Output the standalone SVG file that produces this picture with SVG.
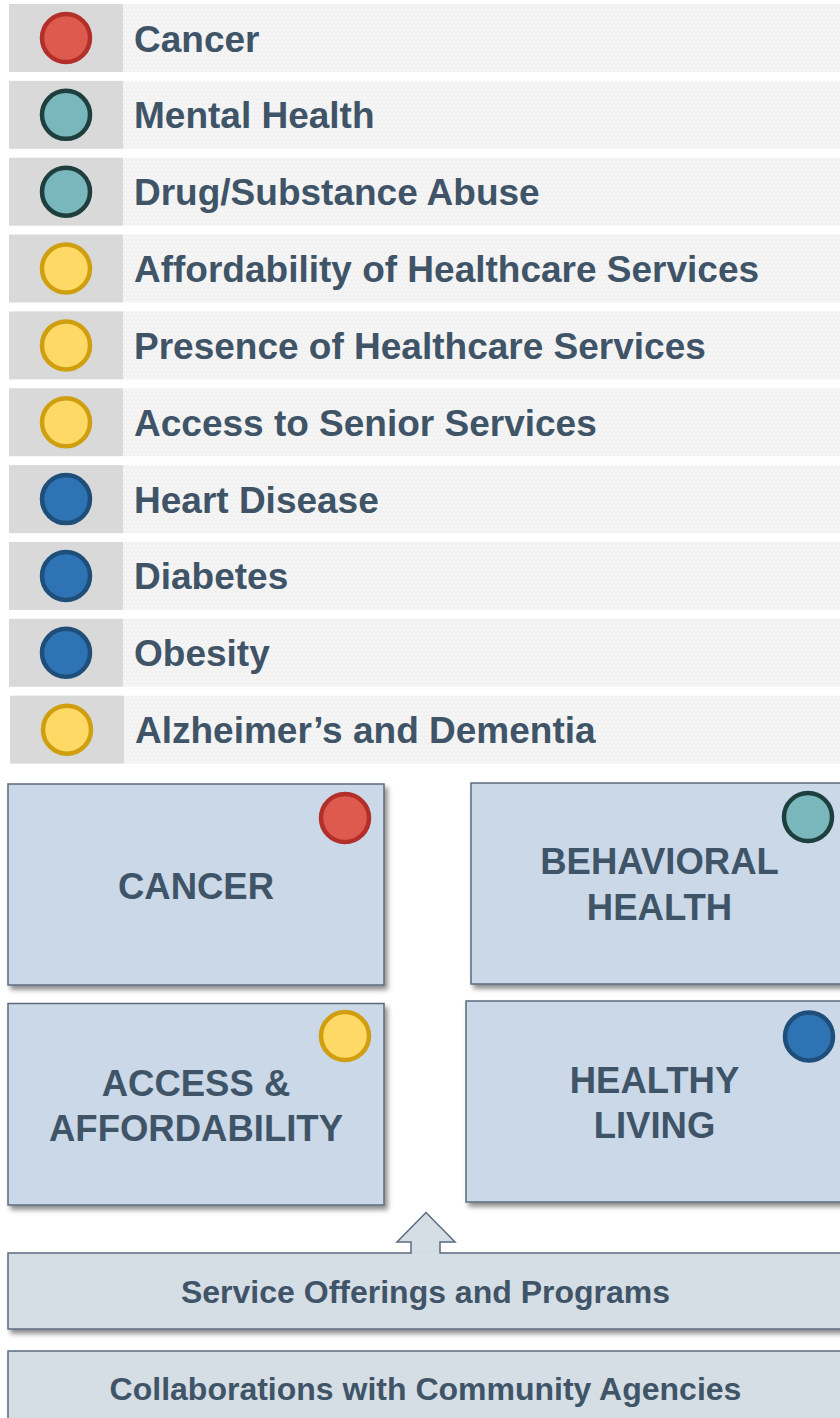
<svg xmlns="http://www.w3.org/2000/svg" width="840" height="1418" viewBox="0 0 840 1418">
<style>
.lbl{font-family:"Liberation Sans",Arial,sans-serif;font-weight:bold;fill:#405468}
.row{font-size:37px}
.big{font-size:36.5px;text-anchor:middle}
.base{font-size:32px;text-anchor:middle}
.sq{fill:#D9D9D9}
.band{fill:url(#dots)}
.box{fill:#CAD8E8;stroke:#5B6B7E;stroke-width:1.5;filter:url(#sh)}
.base-box{fill:#D5DDE5;stroke:#5B6B7E;stroke-width:1.5;filter:url(#sh)}
.red{fill:#DE5A4F;stroke:#B3302A;stroke-width:4.5}
.teal{fill:#79B7BC;stroke:#1F3F3F;stroke-width:4.5}
.yel{fill:#FFD966;stroke:#CF9F10;stroke-width:4.5}
.blu{fill:#2E74B5;stroke:#1E4E79;stroke-width:4.5}
</style>
<defs>
<pattern id="dots" width="8" height="8" patternUnits="userSpaceOnUse">
<rect width="8" height="8" fill="#F2F2F2"/>
<rect x="1" y="1" width="1.3" height="1.3" fill="#FFFFFF"/>
<rect x="5" y="1" width="1.3" height="1.3" fill="#FFFFFF"/>
<rect x="3" y="5" width="1.3" height="1.3" fill="#FFFFFF"/>
<rect x="7" y="5" width="1.3" height="1.3" fill="#FFFFFF"/>
</pattern>
<filter id="sh" x="-10%" y="-10%" width="125%" height="130%">
<feDropShadow dx="3" dy="4" stdDeviation="2.5" flood-color="#000" flood-opacity="0.45"/>
</filter>
</defs>
<rect width="840" height="1418" fill="#FFFFFF"/>

<g id="row-cancer">
<rect class="sq" x="9" y="4" width="114" height="68"/><rect class="band" x="123" y="4" width="717" height="68"/>
<circle class="red" cx="66" cy="38" r="24"/>
<text class="lbl row" x="134" y="51.5">Cancer</text>
</g>
<g id="row-mental">
<rect class="sq" x="9" y="80.85" width="114" height="68"/><rect class="band" x="123" y="80.85" width="717" height="68"/>
<circle class="teal" cx="66" cy="114.85" r="24"/>
<text class="lbl row" x="134" y="128.35">Mental Health</text>
</g>
<g id="row-drug">
<rect class="sq" x="9" y="157.7" width="114" height="68"/><rect class="band" x="123" y="157.7" width="717" height="68"/>
<circle class="teal" cx="66" cy="191.7" r="24"/>
<text class="lbl row" x="134" y="205.2">Drug/Substance Abuse</text>
</g>
<g id="row-afford">
<rect class="sq" x="9" y="234.55" width="114" height="68"/><rect class="band" x="123" y="234.55" width="717" height="68"/>
<circle class="yel" cx="66" cy="268.55" r="24"/>
<text class="lbl row" x="134" y="282.05">Affordability of Healthcare Services</text>
</g>
<g id="row-presence">
<rect class="sq" x="9" y="311.4" width="114" height="68"/><rect class="band" x="123" y="311.4" width="717" height="68"/>
<circle class="yel" cx="66" cy="345.4" r="24"/>
<text class="lbl row" x="134" y="358.9">Presence of Healthcare Services</text>
</g>
<g id="row-senior">
<rect class="sq" x="9" y="388.25" width="114" height="68"/><rect class="band" x="123" y="388.25" width="717" height="68"/>
<circle class="yel" cx="66" cy="422.25" r="24"/>
<text class="lbl row" x="134" y="435.75">Access to Senior Services</text>
</g>
<g id="row-heart">
<rect class="sq" x="9" y="465.1" width="114" height="68"/><rect class="band" x="123" y="465.1" width="717" height="68"/>
<circle class="blu" cx="66" cy="499.1" r="24"/>
<text class="lbl row" x="134" y="512.6">Heart Disease</text>
</g>
<g id="row-diabetes">
<rect class="sq" x="9" y="541.95" width="114" height="68"/><rect class="band" x="123" y="541.95" width="717" height="68"/>
<circle class="blu" cx="66" cy="575.95" r="24"/>
<text class="lbl row" x="134" y="589.45">Diabetes</text>
</g>
<g id="row-obesity">
<rect class="sq" x="9" y="618.8" width="114" height="68"/><rect class="band" x="123" y="618.8" width="717" height="68"/>
<circle class="blu" cx="66" cy="652.8" r="24"/>
<text class="lbl row" x="134" y="666.3">Obesity</text>
</g>
<g id="row-alz">
<rect class="sq" x="10" y="695.65" width="114" height="68"/><rect class="band" x="124" y="695.65" width="716" height="68"/>
<circle class="yel" cx="67" cy="729.65" r="24"/>
<text class="lbl row" x="135" y="743.15">Alzheimer’s and Dementia</text>
</g>

<g id="box-cancer">
<rect class="box" x="8" y="784" width="376" height="201"/>
<circle class="red" cx="345" cy="818" r="24"/>
<text class="lbl big" x="196" y="899">CANCER</text>
</g>
<g id="box-behavioral">
<rect class="box" x="471" y="783" width="378" height="201"/>
<circle class="teal" cx="808" cy="817" r="24"/>
<text class="lbl big" x="659.5" y="874">BEHAVIORAL</text>
<text class="lbl big" x="659.5" y="920">HEALTH</text>
</g>
<g id="box-access">
<rect class="box" x="8" y="1003.5" width="376" height="201.5"/>
<circle class="yel" cx="345" cy="1036" r="24"/>
<text class="lbl big" x="196" y="1096">ACCESS &amp;</text>
<text class="lbl big" x="196" y="1141">AFFORDABILITY</text>
</g>
<g id="box-healthy">
<rect class="box" x="466" y="1001" width="378" height="201"/>
<circle class="blu" cx="809" cy="1036.5" r="24"/>
<text class="lbl big" x="654.5" y="1093">HEALTHY</text>
<text class="lbl big" x="654.5" y="1138">LIVING</text>
</g>

<g id="connectors">
<path d="M411,1254 L411,1242 L397,1242 L426,1212.5 L455,1242 L440,1242 L440,1254" fill="#D5DDE5" stroke="#5B6B7E" stroke-width="1.5" stroke-linejoin="miter"/>
</g>

<g id="box-service">
<rect class="base-box" x="8" y="1253" width="840" height="76"/>
<path d="M411.75,1253 L439.25,1253" stroke="#D5DDE5" stroke-width="2"/>
<text class="lbl base" x="425.5" y="1303">Service Offerings and Programs</text>
</g>
<g id="box-collab">
<rect class="base-box" x="8" y="1351" width="840" height="80"/>
<text class="lbl base" x="425.5" y="1400">Collaborations with Community Agencies</text>
</g>
</svg>
